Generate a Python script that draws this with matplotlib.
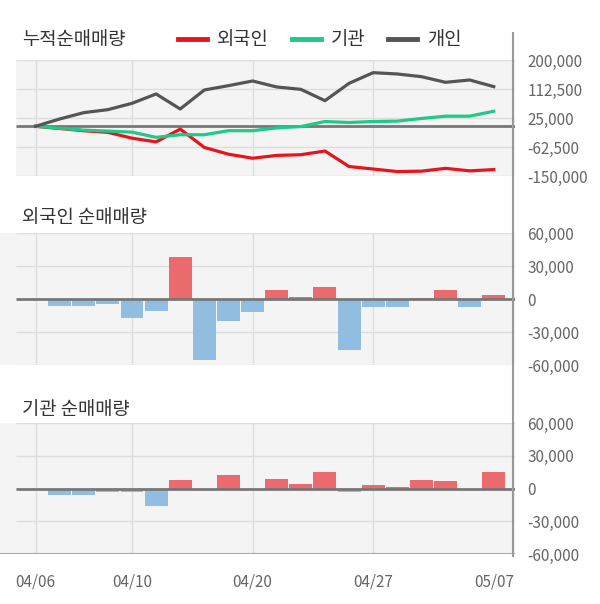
import matplotlib
matplotlib.use("Agg")
import matplotlib.pyplot as plt
from matplotlib.lines import Line2D
import numpy as np

plt.rcParams['font.family'] = ['Noto Sans CJK KR', 'DejaVu Sans']

dates = ["04/06", "04/07", "04/08", "04/09", "04/10", "04/13", "04/14", "04/16", "04/17", "04/20",
         "04/21", "04/22", "04/23", "04/24", "04/27", "04/28", "04/29", "05/04", "05/06", "05/07"]
tick_idx = [0, 4, 9, 14, 19]

# daily net buying (first day has no bar)
foreign = [0, -6700, -6700, -4900, -17600, -11200, 38600, -55300, -20400, -12200,
           8500, 2100, 11200, -46800, -7600, -7600, 1200, 8500, -7600, 3900]
inst = [0, -5800, -5800, -3000, -3000, -15800, 7900, 0, 12200, 0,
        8500, 4000, 15200, -3000, 3000, 1200, 7900, 7000, 0, 14900]
# cumulative individual
indiv_cum = [0, 22000, 41100, 50200, 69300, 97500, 52200, 109500, 122600, 136700,
             118600, 111500, 77300, 129600, 161800, 157800, 149700, 132700, 139700, 119600]

foreign_cum = np.cumsum(foreign)
inst_cum = np.cumsum(inst)

RED = "#e8141c"
GREEN = "#1ec98a"
DARK = "#555555"
POS = "#eb6a6d"
NEG = "#90bde0"
BG = "#f4f4f4"
GRID = "#dddddd"
ZERO = "#777777"
TXT = "#333333"
TICK = "#666666"

W, H = 600, 604
fig = plt.figure(figsize=(6, 6.04), dpi=100)

x = np.arange(len(dates))
step = 24.12      # pixels per trading day
x0_px = 35.5      # pixel position of first day
xmax = (515 - x0_px) / step
gx0 = (16 - x0_px) / step


def make_ax(top, bottom, yticks, ylabels, left_px=0):
    ax = fig.add_axes([left_px / W, 1 - bottom / H, (515 - left_px) / W, (bottom - top) / H])
    ax.set_facecolor(BG)
    ax.set_xlim((left_px - x0_px) / step, xmax)
    ax.set_ylim(yticks[-1], yticks[0])
    for s in ax.spines.values():
        s.set_visible(False)
    ax.hlines(yticks, gx0, xmax, color=GRID, lw=1, zorder=0)
    for i in tick_idx[:-1]:
        ax.axvline(i, color=GRID, lw=1, zorder=0)
    ax.hlines(0, gx0, xmax, color=ZERO, lw=2, zorder=3)
    ax.set_xticks([])
    ax.yaxis.tick_right()
    ax.set_yticks(yticks)
    ax.set_yticklabels(ylabels)
    ax.tick_params(axis='y', length=0, pad=9, labelsize=11, labelcolor=TICK)
    return ax


# top: cumulative
ax1 = make_ax(60, 176, [200000, 112500, 25000, -62500, -150000],
              ["200,000", "112,500", "25,000", "-62,500", "-150,000"], left_px=16)
ax1.plot(x, foreign_cum, color=RED, lw=2.3, zorder=4)
ax1.plot(x, inst_cum, color=GREEN, lw=2.3, zorder=4)
ax1.plot(x, indiv_cum, color=DARK, lw=2.3, zorder=4)

# middle: foreign daily
ax2 = make_ax(233, 365, [60000, 30000, 0, -30000, -60000],
              ["60,000", "30,000", "0", "-30,000", "-60,000"])
ax2.bar(x[1:], foreign[1:], width=0.95,
        color=[POS if v > 0 else NEG for v in foreign[1:]], zorder=2)

# bottom: institution daily
ax3 = make_ax(423, 554, [60000, 30000, 0, -30000, -60000],
              ["60,000", "30,000", "0", "-30,000", "-60,000"])
ax3.bar(x[1:], inst[1:], width=0.95,
        color=[POS if v > 0 else NEG for v in inst[1:]], zorder=2)
ax3.axhline(-60000, color="#aaaaaa", lw=1.5, zorder=3)
ax3.set_xticks(tick_idx)
ax3.set_xticklabels([dates[i] for i in tick_idx])
ax3.tick_params(axis='x', length=0, pad=14, labelsize=11, labelcolor=TICK)

# titles
fig.text(22 / W, 1 - 40 / H, "누적순매매량", fontsize=13.5, color=TXT, va='center')
fig.text(22 / W, 1 - 218 / H, "외국인 순매매량", fontsize=13.5, color=TXT, va='center')
fig.text(22 / W, 1 - 410 / H, "기관 순매매량", fontsize=13.5, color=TXT, va='center')

handles = [Line2D([], [], color=c, lw=3.5) for c in (RED, GREEN, DARK)]
fig.legend(handles, ["외국인", "기관", "개인"], loc='center', ncol=3,
           bbox_to_anchor=(320 / W, 1 - 40 / H), frameon=False, fontsize=13.5,
           handlelength=1.55, handletextpad=0.55, columnspacing=1.2, labelcolor=TXT)

# right axis line
fig.add_artist(Line2D([513 / W, 513 / W], [1 - 33 / H, 1 - 556 / H], color="#999999", lw=1.5))

fig.savefig("out.png", dpi=100, facecolor="white")
